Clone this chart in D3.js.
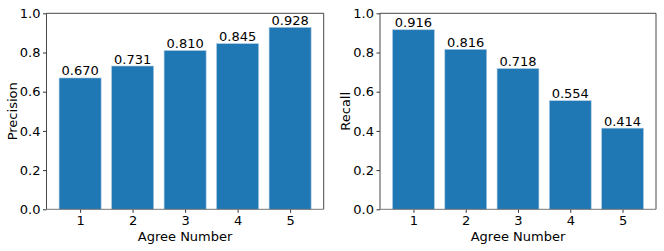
<!DOCTYPE html>
<html>
<head>
<meta charset="utf-8">
<script src="https://cdn.jsdelivr.net/npm/d3@7"></script>
<style>
  body { margin: 0; background: #fff; }
  svg { display: block; font-family: "DejaVu Sans", sans-serif; }
</style>
</head>
<body>
<div id="wrapper"></div>
<script>
const agreeNumbers = [1, 2, 3, 4, 5];
const precision = [0.670, 0.731, 0.810, 0.845, 0.928];
const recall = [0.916, 0.816, 0.718, 0.554, 0.414];
const yTicks = [0.0, 0.2, 0.4, 0.6, 0.8, 1.0];

const width = 664;
const height = 251;

const svg = d3.select("#wrapper")
  .append("svg")
  .attr("width", width)
  .attr("height", height);

function drawPanel(left, right, values, yLabel) {
  const top = 13.3;
  const bottom = 209.3;

  const x = d3.scaleLinear().domain([0.36, 5.64]).range([left, right]);
  const y = d3.scaleLinear().domain([0, 1]).range([bottom, top]);

  const g = svg.append("g");

  // bars
  g.selectAll(".bar")
    .data(values)
    .enter()
    .append("rect")
    .attr("class", "bar")
    .attr("x", (d, i) => x(agreeNumbers[i] - 0.4))
    .attr("width", x(0.8) - x(0))
    .attr("y", d => y(d))
    .attr("height", d => y(0) - y(d))
    .attr("fill", "#1f77b4")
    .attr("stroke", "#a9c9e3")
    .attr("stroke-width", 0.6);

  // value labels
  g.selectAll(".val")
    .data(values)
    .enter()
    .append("text")
    .attr("class", "val")
    .attr("x", (d, i) => x(agreeNumbers[i]))
    .attr("y", d => y(d) - 2.5)
    .attr("text-anchor", "middle")
    .attr("font-size", 13)
    .attr("fill", "#000")
    .text(d => d.toFixed(3));

  // axes
  const xAxis = d3.axisBottom(x)
    .tickValues(agreeNumbers)
    .tickFormat(d3.format("d"))
    .tickSize(3.5)
    .tickPadding(2.5);
  const yAxis = d3.axisLeft(y)
    .tickValues(yTicks)
    .tickFormat(d3.format(".1f"))
    .tickSize(3.5)
    .tickPadding(2.5);

  const gx = g.append("g")
    .attr("transform", `translate(0,${bottom})`)
    .call(xAxis);
  const gy = g.append("g")
    .attr("transform", `translate(${left},0)`)
    .call(yAxis);

  [gx, gy].forEach(a => {
    a.select(".domain").remove();
    a.selectAll("line").attr("stroke", "#000").attr("stroke-width", 0.8);
    a.selectAll("text")
      .attr("font-size", 13)
      .attr("font-family", "DejaVu Sans, sans-serif")
      .attr("fill", "#000");
  });

  // spines
  g.append("line")
    .attr("x1", left).attr("x2", right)
    .attr("y1", top).attr("y2", top)
    .attr("stroke", "#333").attr("stroke-width", 0.9);
  g.append("line")
    .attr("x1", left).attr("x2", left)
    .attr("y1", top).attr("y2", bottom)
    .attr("stroke", "#333").attr("stroke-width", 0.9);
  g.append("line")
    .attr("x1", right).attr("x2", right)
    .attr("y1", top).attr("y2", bottom)
    .attr("stroke", "#333").attr("stroke-width", 0.9);
  g.append("line")
    .attr("x1", left).attr("x2", right)
    .attr("y1", bottom).attr("y2", bottom)
    .attr("stroke", "#777").attr("stroke-width", 1);

  // axis labels
  g.append("text")
    .attr("x", (left + right) / 2)
    .attr("y", 241)
    .attr("text-anchor", "middle")
    .attr("font-size", 13)
    .attr("fill", "#000")
    .text("Agree Number");

  g.append("text")
    .attr("transform", `translate(${left - 30},${(top + bottom) / 2}) rotate(-90)`)
    .attr("text-anchor", "middle")
    .attr("font-size", 13)
    .attr("fill", "#000")
    .text(yLabel);
}

drawPanel(46.5, 323.7, precision, "Precision");
drawPanel(380, 656, recall, "Recall");
</script>
</body>
</html>
